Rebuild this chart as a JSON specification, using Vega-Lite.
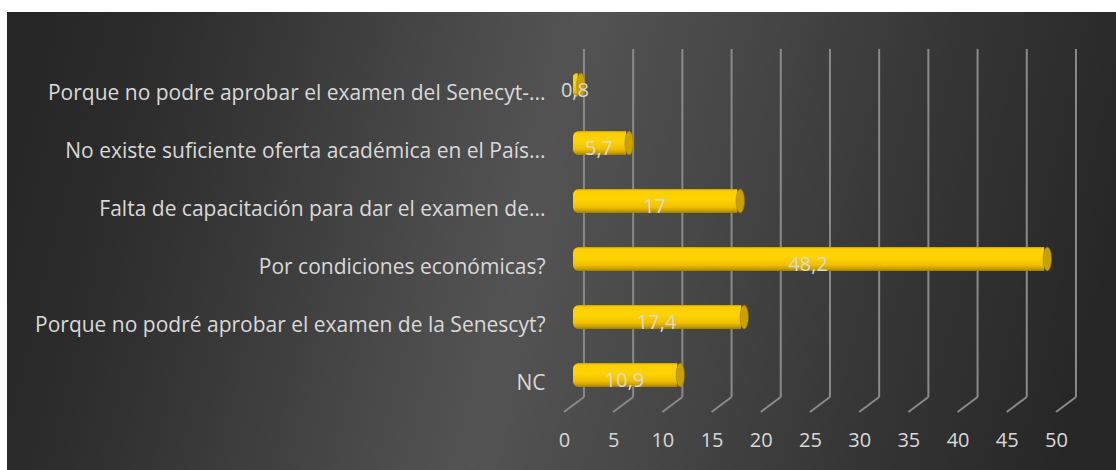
{
  "$schema": "https://vega.github.io/schema/vega-lite/v6.json",
  "width": 1109,
  "height": 458,
  "autosize": {"type": "none"},
  "padding": {"left": 7, "top": 12, "right": 0, "bottom": 0},
  "background": "white",
  "config": {
    "view": {
      "stroke": null,
      "fill": {
        "gradient": "linear",
        "x1": 0, "y1": 0.45, "x2": 1, "y2": 0.55,
        "stops": [
          {"offset": 0, "color": "#272727"},
          {"offset": 0.1, "color": "#2d2d2d"},
          {"offset": 0.22, "color": "#393939"},
          {"offset": 0.4, "color": "#4d4d4d"},
          {"offset": 0.47, "color": "#535353"},
          {"offset": 0.62, "color": "#474747"},
          {"offset": 0.8, "color": "#363636"},
          {"offset": 0.94, "color": "#2b2b2b"},
          {"offset": 1, "color": "#262626"}
        ]
      }
    }
  },
  "datasets": {
    "answers": [
      {"reason": "Porque no podre aprobar el examen del Senecyt-...", "percent": 0.8, "label": "0,8"},
      {"reason": "No existe suficiente oferta académica en el País...", "percent": 5.7, "label": "5,7"},
      {"reason": "Falta de capacitación para dar el examen de...", "percent": 17, "label": "17"},
      {"reason": "Por condiciones económicas?", "percent": 48.2, "label": "48,2"},
      {"reason": "Porque no podré aprobar el examen de la Senescyt?", "percent": 17.4, "label": "17,4"},
      {"reason": "NC", "percent": 10.9, "label": "10,9"}
    ],
    "ticks": [
      {"t": 0}, {"t": 5}, {"t": 10}, {"t": 15}, {"t": 20}, {"t": 25},
      {"t": 30}, {"t": 35}, {"t": 40}, {"t": 45}, {"t": 50}
    ]
  },
  "layer": [
    {
      "data": {"name": "ticks"},
      "mark": {"type": "rule", "color": "#8a8a8a", "strokeWidth": 2, "xOffset": 20},
      "encoding": {
        "x": {
          "field": "t", "type": "quantitative",
          "scale": {"domain": [-56.6, 56.1], "zero": false, "nice": false},
          "axis": {
            "orient": "bottom", "offset": -45, "values": [0, 5, 10, 15, 20, 25, 30, 35, 40, 45, 50],
            "domain": false, "ticks": false, "grid": false, "title": null,
            "labelColor": "#d9d9d9", "labelFontSize": 20, "labelFont": "Open Sans",
            "labelPadding": 5, "labelBaseline": "top", "labelFlush": false, "labelOverlap": false
          }
        },
        "y": {"datum": 37, "type": "quantitative", "scale": {"domain": [0, 458], "reverse": true, "zero": false, "nice": false}, "axis": null},
        "y2": {"datum": 385}
      }
    },
    {
      "data": {"name": "ticks"},
      "mark": {"type": "rule", "color": "#8a8a8a", "strokeWidth": 2, "xOffset": 20, "x2Offset": 0},
      "encoding": {
        "x": {"field": "t", "type": "quantitative", "scale": {"domain": [-56.6, 56.1], "zero": false, "nice": false}, "axis": null},
        "x2": {"field": "t"},
        "y": {"datum": 385, "type": "quantitative", "scale": {"domain": [0, 458], "reverse": true, "zero": false, "nice": false}, "axis": null},
        "y2": {"datum": 400}
      }
    },
    {
      "data": {"name": "answers"},
      "mark": {
        "type": "bar",
        "xOffset": -3,
        "cornerRadiusTopLeft": 6,
        "cornerRadiusBottomLeft": 6,
        "color": {
          "gradient": "linear", "x1": 0, "y1": 0, "x2": 0, "y2": 1,
          "stops": [
            {"offset": 0, "color": "#c9a000"},
            {"offset": 0.08, "color": "#ffd000"},
            {"offset": 0.45, "color": "#ffd300"},
            {"offset": 0.75, "color": "#f0c000"},
            {"offset": 0.92, "color": "#c49c00"},
            {"offset": 1, "color": "#9c7c00"}
          ]
        }
      },
      "encoding": {
        "x": {"field": "percent", "type": "quantitative", "scale": {"domain": [-57.515, 55.185], "zero": false, "nice": false}, "axis": null},
        "y": {
          "field": "reason", "type": "nominal", "sort": null,
          "scale": {"type": "band", "range": [61, 375], "paddingInner": 0.586, "paddingOuter": 0},
          "axis": {
            "orient": "left", "offset": -538, "domain": false, "ticks": false, "grid": false, "title": null,
            "labelColor": "#d9d9d9", "labelFontSize": 21, "labelFont": "Open Sans",
            "labelPadding": 0, "labelOffset": 9, "labelLimit": 0, "labelAlign": "right", "labelBaseline": "middle"
          }
        }
      }
    },
    {
      "data": {"name": "answers"},
      "mark": {
        "type": "point",
        "filled": true,
        "shape": "M 0,-1 A 0.35,1 0 1,1 0,1 A 0.35,1 0 1,1 0,-1 Z",
        "size": 560,
        "color": "#c9a100",
        "stroke": "#a08000",
        "strokeWidth": 0.6,
        "opacity": 1
      },
      "encoding": {
        "x": {"field": "percent", "type": "quantitative", "scale": {"domain": [-57.515, 55.185], "zero": false, "nice": false}, "axis": null},
        "y": {
          "field": "reason", "type": "nominal", "sort": null,
          "scale": {"type": "band", "range": [61, 375], "paddingInner": 0.586, "paddingOuter": 0},
          "axis": null
        }
      }
    },
    {
      "data": {"name": "answers"},
      "mark": {"type": "text", "color": "#d9d9d9", "fontSize": 20, "font": "Open Sans", "align": "center", "baseline": "middle", "dx": 7, "dy": 6},
      "encoding": {
        "x": {"field": "percent", "type": "quantitative", "scale": {"domain": [-113.2, 112.2], "zero": false, "nice": false}, "axis": null},
        "y": {
          "field": "reason", "type": "nominal", "sort": null,
          "scale": {"type": "band", "range": [61, 375], "paddingInner": 0.586, "paddingOuter": 0},
          "axis": null
        },
        "text": {"field": "label", "type": "nominal"}
      }
    }
  ],
  "resolve": {"scale": {"x": "independent", "y": "independent"}}
}
